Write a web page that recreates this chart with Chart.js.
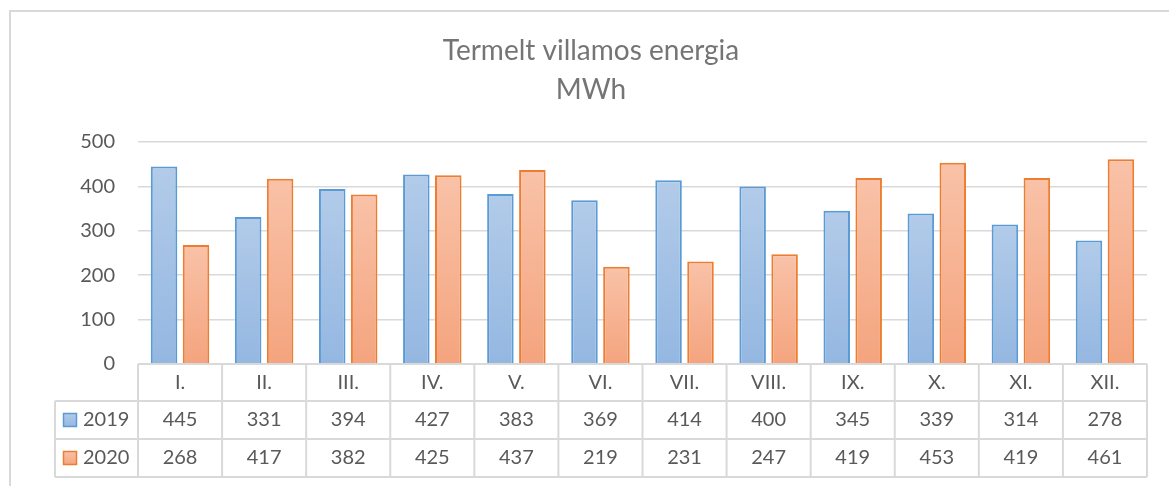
<!DOCTYPE html>
<html>
<head>
<meta charset="utf-8">
<script src="https://cdn.jsdelivr.net/npm/chart.js@4"></script>
<style>
    html, body { margin: 0; padding: 0; background: #ffffff; }
    #wrap { position: relative; width: 1169px; height: 486px; }
</style>
</head>
<body>
<div id="wrap"><canvas id="chart" width="1169" height="486"></canvas></div>
<script>
const months = ["I.", "II.", "III.", "IV.", "V.", "VI.", "VII.", "VIII.", "IX.", "X.", "XI.", "XII."];
const values2019 = [445, 331, 394, 427, 383, 369, 414, 400, 345, 339, 314, 278];
const values2020 = [268, 417, 382, 425, 437, 219, 231, 247, 419, 453, 419, 461];
const yTicks = [0, 100, 200, 300, 400, 500];
const titleLines = ["Termelt villamos energia", "MWh"];

const FONT = "Lato, 'Liberation Sans', sans-serif";
const TEXT = "#595959";
const LINE = "#d9d9d9";

function barGradient(top, bottom) {
    return function (ctx) {
        const chart = ctx.chart;
        if (!chart.chartArea || ctx.raw === undefined) return bottom;
        const y = chart.scales.y.getPixelForValue(ctx.raw);
        const g = chart.ctx.createLinearGradient(0, y, 0, chart.chartArea.bottom);
        g.addColorStop(0, top);
        g.addColorStop(1, bottom);
        return g;
    };
}

const series = [
    { label: "2019", data: values2019, border: "#5b9bd5", top: "#b2cbe9", bottom: "#94b7e1" },
    { label: "2020", data: values2020, border: "#ed7d31", top: "#f9c2a8", bottom: "#f4a47e" },
];

// outer frame (left and top edge only, the rest is cropped) + title
const framePlugin = {
    id: "frame",
    beforeDraw(chart) {
        const c = chart.ctx;
        c.save();
        c.strokeStyle = LINE;
        c.lineWidth = 2;
        c.beginPath();
        c.moveTo(10, 486);
        c.lineTo(10, 11);
        c.lineTo(1169, 11);
        c.stroke();

        c.fillStyle = "#757575";
        c.font = "28px " + FONT;
        c.textAlign = "center";
        c.textBaseline = "alphabetic";
        c.fillText(titleLines[0], 591, 60);
        c.fillText(titleLines[1], 591, 99);
        c.restore();
    }
};

// Excel style data table under the plot
const tablePlugin = {
    id: "dataTable",
    afterDraw(chart) {
        const c = chart.ctx;
        const x = chart.scales.x;
        const area = chart.chartArea;
        const left = area.left, right = area.right;
        const step = (right - left) / months.length;
        const rows = [area.bottom, area.bottom + 37, area.bottom + 75, area.bottom + 113];
        const labelLeft = 55;

        c.save();
        c.strokeStyle = LINE;
        c.lineWidth = 2;
        c.beginPath();
        c.moveTo(left, rows[0]); c.lineTo(right, rows[0]);
        for (let r = 1; r < rows.length; r++) {
            c.moveTo(labelLeft, rows[r]); c.lineTo(right, rows[r]);
        }
        c.moveTo(labelLeft, rows[1]); c.lineTo(labelLeft, rows[3]);
        for (let i = 0; i <= months.length; i++) {
            const px = left + i * step;
            c.moveTo(px, rows[0]); c.lineTo(px, rows[3]);
        }
        c.stroke();

        c.fillStyle = TEXT;
        c.font = "20px " + FONT;
        c.textAlign = "center";
        c.textBaseline = "middle";
        months.forEach((m, i) => {
            const cx = x.getPixelForValue(i);
            c.fillText(m, cx, (rows[0] + rows[1]) / 2);
            c.fillText(String(values2019[i]), cx, (rows[1] + rows[2]) / 2);
            c.fillText(String(values2020[i]), cx, (rows[2] + rows[3]) / 2);
        });

        series.forEach((s, k) => {
            const cy = (rows[k + 1] + rows[k + 2]) / 2;
            const g = c.createLinearGradient(0, cy - 7, 0, cy + 7);
            g.addColorStop(0, s.top);
            g.addColorStop(1, s.bottom);
            c.fillStyle = g;
            c.fillRect(63, cy - 7, 14, 14);
            c.strokeStyle = s.border;
            c.lineWidth = 1.5;
            c.strokeRect(63.5, cy - 6.5, 13, 13);
            c.fillStyle = TEXT;
            c.textAlign = "left";
            c.fillText(s.label, 83, cy);
        });
        c.restore();
    }
};

new Chart(document.getElementById("chart").getContext("2d"), {
    type: "bar",
    data: {
        labels: months,
        datasets: series.map(s => ({
            label: s.label,
            data: s.data,
            backgroundColor: barGradient(s.top, s.bottom),
            borderColor: s.border,
            borderWidth: 2,
            categoryPercentage: 0.76,
            barPercentage: 0.83,
        })),
    },
    options: {
        responsive: false,
        animation: false,
        layout: {
            padding: { top: 142, left: 0, right: 22, bottom: 122 },
        },
        plugins: {
            legend: { display: false },
            tooltip: { enabled: false },
            title: { display: false },
        },
        scales: {
            x: {
                display: false,
            },
            y: {
                min: 0,
                max: 500,
                afterBuildTicks(scale) {
                    scale.ticks = yTicks.map(v => ({ value: v }));
                },
                afterFit(scale) {
                    scale.width = 138;
                },
                border: { display: false },
                grid: {
                    color: LINE,
                    lineWidth: 1.5,
                    drawTicks: false,
                },
                ticks: {
                    color: TEXT,
                    padding: 23,
                    font: { family: FONT, size: 20 },
                },
            },
        },
    },
    plugins: [framePlugin, tablePlugin],
});
</script>
</body>
</html>
